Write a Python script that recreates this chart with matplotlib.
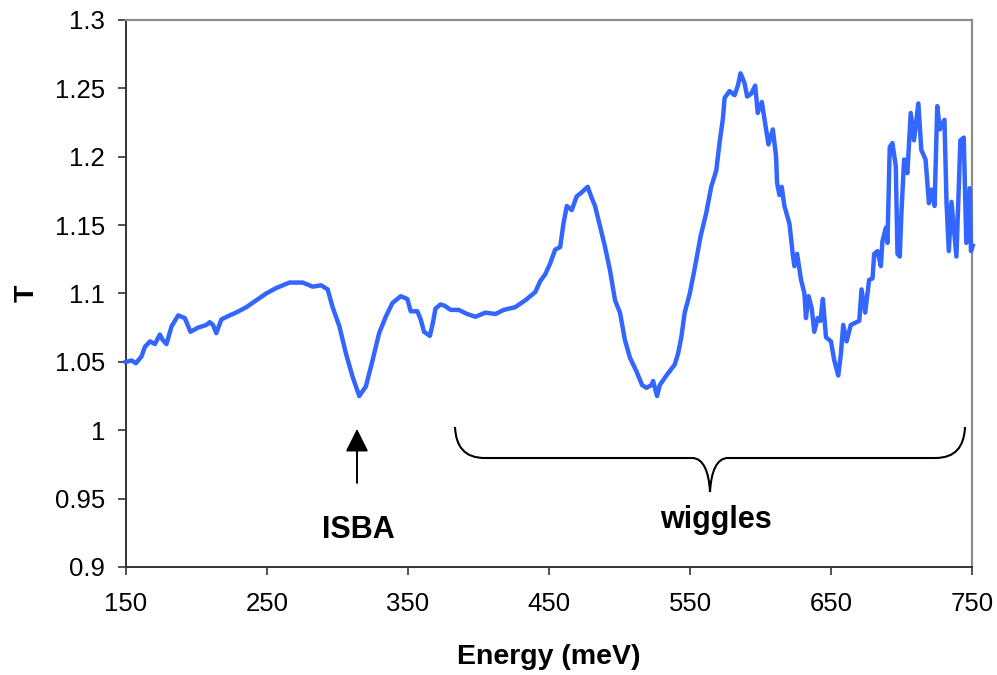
import matplotlib
matplotlib.use("Agg")
import matplotlib.pyplot as plt
from matplotlib.path import Path
from matplotlib.patches import PathPatch

plt.rcParams["font.family"] = ["Liberation Sans", "DejaVu Sans"]

# Transmission spectrum, read point by point
energy_mev = [
    150, 154, 157, 161, 163.4, 167, 170.5, 174, 176, 178.7,
    182.3, 187, 191.7, 195.7, 201, 207, 209.4, 211.7, 214, 217.6,
    223.5, 228, 235.3, 242.4, 249.4, 256.5, 265.9, 275.3, 282.4, 288.3,
    293, 296.5, 301.3, 306, 310.7, 315.4, 320.1, 324.8, 329.5, 334.2,
    338.9, 344.8, 349.5, 351.9, 356.6, 359, 361.3, 365.5, 367.5, 369.5,
    373, 376, 380.2, 386, 391.9, 397.8, 404.9, 412, 417.8, 426,
    433.1, 440.2, 443.7, 447.3, 450.8, 454.3, 457.9, 460.2, 462.6, 466.1,
    469.6, 473.2, 477.4, 480.2, 482.6, 486.2, 489.7, 493.2, 496.8, 500.3,
    503.8, 507.4, 512, 516, 519.1, 522.6, 523.8, 526.6, 528.5, 533.2,
    539.1, 541.5, 543.8, 546.2, 549.8, 552.1, 554.5, 557.5, 561.5, 565,
    568.6, 570.9, 573.3, 574.5, 578, 581.6, 583.9, 585.8, 588.6, 590.5,
    593.3, 596.2, 598, 600.9, 603.9, 605.6, 608.7, 611, 611.7, 613.4,
    615, 616.9, 620.5, 622.8, 624, 625.9, 628.7, 631.1, 632.2, 634.1,
    636.3, 638.1, 640.5, 642.4, 644.2, 646.4, 649.9, 652.3, 655.1, 657,
    658.6, 661, 664, 670, 671.6, 674.2, 677, 679.4, 680.6, 682.9,
    685.3, 686.4, 688.8, 690, 691.6, 693.5, 695.9, 697.1, 698.7, 699.9,
    701.8, 704.1, 706.5, 708.8, 711.9, 714, 717, 719.4, 721.3, 723.4,
    725.3, 727.2, 730.4, 731.9, 733.5, 735.4, 737, 738.9, 741.7, 744.1,
    745.9, 748.3, 749.2, 750.5,
]
transmission = [
    1.050, 1.051, 1.049, 1.054, 1.061, 1.065, 1.063, 1.070, 1.066, 1.063,
    1.076, 1.084, 1.082, 1.072, 1.075, 1.077, 1.079, 1.077, 1.071, 1.081,
    1.084, 1.086, 1.090, 1.095, 1.100, 1.104, 1.108, 1.108, 1.105, 1.106,
    1.103, 1.090, 1.076, 1.056, 1.039, 1.025, 1.032, 1.051, 1.071, 1.083,
    1.093, 1.098, 1.096, 1.087, 1.087, 1.081, 1.072, 1.069, 1.078, 1.089,
    1.092, 1.091, 1.088, 1.088, 1.085, 1.083, 1.086, 1.085, 1.088, 1.090,
    1.095, 1.101, 1.109, 1.114, 1.122, 1.132, 1.134, 1.151, 1.164, 1.161,
    1.171, 1.174, 1.178, 1.170, 1.164, 1.149, 1.134, 1.117, 1.095, 1.086,
    1.066, 1.053, 1.043, 1.033, 1.031, 1.033, 1.036, 1.025, 1.033, 1.040,
    1.048, 1.056, 1.068, 1.086, 1.100, 1.112, 1.125, 1.142, 1.159, 1.178,
    1.190, 1.210, 1.228, 1.243, 1.248, 1.245, 1.252, 1.261, 1.254, 1.244,
    1.246, 1.252, 1.232, 1.240, 1.220, 1.209, 1.220, 1.200, 1.181, 1.172,
    1.178, 1.164, 1.151, 1.129, 1.120, 1.129, 1.110, 1.100, 1.082, 1.098,
    1.089, 1.072, 1.082, 1.080, 1.096, 1.068, 1.065, 1.051, 1.040, 1.056,
    1.077, 1.065, 1.077, 1.080, 1.103, 1.086, 1.110, 1.111, 1.129, 1.131,
    1.120, 1.138, 1.148, 1.137, 1.207, 1.210, 1.193, 1.129, 1.127, 1.159,
    1.198, 1.188, 1.232, 1.212, 1.239, 1.205, 1.198, 1.166, 1.176, 1.164,
    1.237, 1.220, 1.227, 1.166, 1.131, 1.167, 1.149, 1.127, 1.212, 1.214,
    1.137, 1.177, 1.131, 1.135,
]

x_ticks = [150, 250, 350, 450, 550, 650, 750]
y_ticks = [0.9, 0.95, 1.0, 1.05, 1.1, 1.15, 1.2, 1.25, 1.3]
y_tick_labels = ["0.9", "0.95", "1", "1.05", "1.1", "1.15", "1.2", "1.25", "1.3"]

ISBA_ENERGY = 313.8
WIGGLE_RANGE = (383.3, 745.0)

fig = plt.figure(figsize=(9.97, 6.75), dpi=100)
ax = fig.add_axes([0.1264, 0.16, 0.8486, 0.8104])

ax.plot(energy_mev, transmission, color="#3366FF", lw=3.2,
        solid_joinstyle="round", clip_on=False, zorder=3)

ax.set_xlim(150, 750)
ax.set_ylim(0.9, 1.3)
ax.set_xticks(x_ticks)
ax.set_yticks(y_ticks)
ax.set_yticklabels(y_tick_labels)
ax.tick_params(axis="both", direction="out", length=6, width=1.2,
               color="#333333", labelsize=18.5)
ax.tick_params(axis="x", pad=12)
ax.tick_params(axis="y", pad=9)

for side in ("left", "bottom"):
    ax.spines[side].set_color("#333333")
    ax.spines[side].set_linewidth(1.4)
for side in ("top", "right"):
    ax.spines[side].set_color("#8c8c8c")
    ax.spines[side].set_linewidth(1.6)

ax.set_xlabel("Energy (meV)", fontsize=20.5, fontweight="bold", labelpad=20)
ax.set_ylabel("T", fontsize=20.5, fontweight="bold", labelpad=11)

# ISBA marker arrow and label
ax.annotate("", xy=(ISBA_ENERGY, 1.001), xytext=(ISBA_ENERGY, 0.9615),
            arrowprops=dict(arrowstyle="-|>,head_length=0.7,head_width=0.35",
                            color="black", lw=1.4, mutation_scale=20,
                            shrinkA=0, shrinkB=0))
ax.text(ISBA_ENERGY + 1, 0.9213, "ISBA", ha="center", va="baseline",
        fontsize=22, fontweight="bold")

# curly brace spanning the oscillating region
x0, x1 = WIGGLE_RANGE
xm = (x0 + x1) / 2
top, mid, tip = 1.0024, 0.9797, 0.9548
verts = [
    (x0, top), (x0 + 0.7, 0.988), (x0 + 6.7, mid), (x0 + 21.3, mid),
    (xm - 12.8, mid),
    (xm - 4.8, mid), (xm - 0.8, 0.970), (xm, tip),
    (xm + 0.8, 0.970), (xm + 4.8, mid), (xm + 12.8, mid),
    (x1 - 21.3, mid),
    (x1 - 6.7, mid), (x1 - 0.7, 0.988), (x1, top),
]
codes = [Path.MOVETO, Path.CURVE4, Path.CURVE4, Path.CURVE4,
         Path.LINETO,
         Path.CURVE4, Path.CURVE4, Path.CURVE4,
         Path.CURVE4, Path.CURVE4, Path.CURVE4,
         Path.LINETO,
         Path.CURVE4, Path.CURVE4, Path.CURVE4]
ax.add_patch(PathPatch(Path(verts, codes), fill=False, lw=1.5,
                       edgecolor="black", clip_on=False))
ax.text(xm + 4, 0.9286, "wiggles", ha="center", va="baseline",
        fontsize=22, fontweight="bold")

fig.savefig("out.png", dpi=100)
